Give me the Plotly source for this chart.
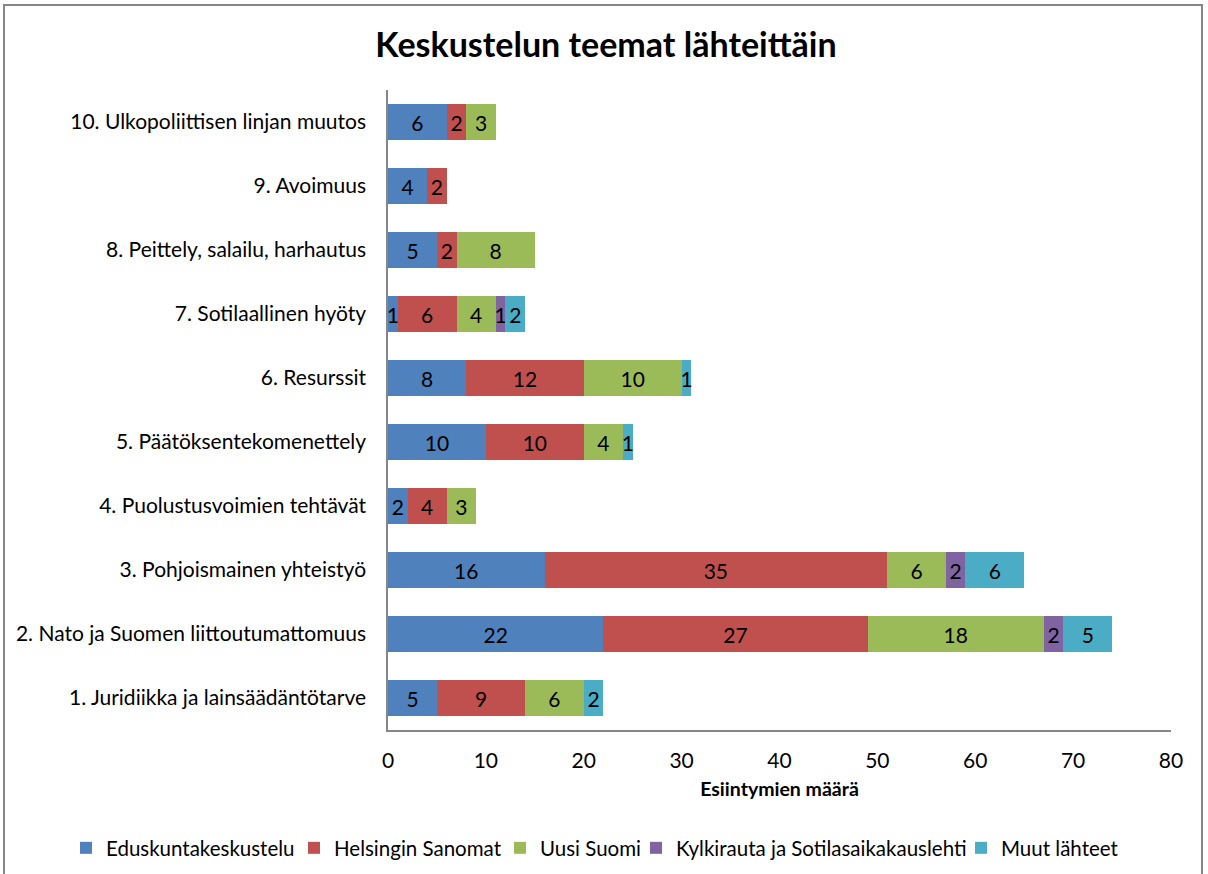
import plotly.graph_objects as go

categories = [
    "1. Juridiikka ja lainsäädäntötarve",
    "2. Nato ja Suomen liittoutumattomuus",
    "3. Pohjoismainen yhteistyö",
    "4. Puolustusvoimien tehtävät",
    "5. Päätöksentekomenettely",
    "6. Resurssit",
    "7. Sotilaallinen hyöty",
    "8. Peittely, salailu, harhautus",
    "9. Avoimuus",
    "10. Ulkopoliittisen linjan muutos",
]
eduskunta = [5, 22, 16, 2, 10, 8, 1, 5, 4, 6]
hesari = [9, 27, 35, 4, 10, 12, 6, 2, 2, 2]
uusi_suomi = [6, 18, 6, 3, 4, 10, 4, 8, None, 3]
kylkirauta = [None, 2, 2, None, None, None, 1, None, None, None]
muut = [2, 5, 6, None, 1, 1, 2, None, None, None]

series = [
    ("Eduskuntakeskustelu", eduskunta, "#4F81BD"),
    ("Helsingin Sanomat", hesari, "#C0504D"),
    ("Uusi Suomi", uusi_suomi, "#9BBB59"),
    ("Kylkirauta ja Sotilasaikakauslehti", kylkirauta, "#8064A2"),
    ("Muut lähteet", muut, "#4BACC6"),
]
# legend text start positions (px)
legend_text_x = [106, 334, 540, 676, 1001]

FONT = "Lato"
W, H = 1208, 874
L, R, T, B = 388, 1208 - 1171, 90, 874 - 730
pw, ph = W - L - R, H - T - B

def px(x):
    return (x - L) / pw

def py(y):
    return (H - B - y) / ph

fig = go.Figure()
legend_names = ["legend", "legend2", "legend3", "legend4", "legend5"]
for (name, vals, color), lg in zip(series, legend_names):
    fig.add_trace(go.Bar(
        name=name, y=categories, x=vals, orientation="h",
        marker=dict(color=color, line=dict(width=0)),
        text=vals, textposition="inside", insidetextanchor="middle",
        texttemplate="%{x}", legend=lg,
        textfont=dict(color="black", size=21, family=FONT),
    ))

legend_layouts = {}
for lg, tx in zip(legend_names, legend_text_x):
    legend_layouts[lg] = dict(
        orientation="h", xref="container", yref="container",
        x=(tx - 40) / W, xanchor="left", y=1 - 848 / H, yanchor="middle",
        font=dict(size=20.5, family=FONT, color="black"),
        bgcolor="rgba(0,0,0,0)", itemwidth=30,
    )

fig.update_layout(
    width=W, height=H,
    barmode="stack", bargap=0.44,
    paper_bgcolor="white", plot_bgcolor="white",
    margin=dict(l=L, r=R, t=T, b=B, pad=0, autoexpand=False),
    font=dict(family=FONT, color="black", size=20),
    uniformtext=dict(minsize=21, mode="show"),
    title=dict(text="<b>Keskustelun teemat lähteittäin</b>", x=606 / W, xanchor="center",
               xref="container", y=1 - 45 / H, yanchor="middle", yref="container",
               font=dict(size=34, family=FONT, color="black")),
    showlegend=True,
    xaxis=dict(range=[0, 80], dtick=10, showgrid=False, zeroline=False,
               showline=True, linecolor="#868686", linewidth=1.5,
               ticks="", tickfont=dict(size=21, family=FONT),
               ticklabelstandoff=11,
               title=dict(text="<b>Esiintymien määrä</b>", font=dict(size=19.5, family=FONT), standoff=11)),
    yaxis=dict(categoryorder="array", categoryarray=categories, showgrid=False,
               zeroline=False, showline=True, linecolor="#868686", linewidth=1.5,
               ticks="", tickfont=dict(size=21, family=FONT), ticklabelstandoff=16),
    **legend_layouts,
)

fig.add_shape(type="rect", xref="paper", yref="paper",
              x0=px(4), x1=px(1202), y0=py(880), y1=py(5),
              line=dict(color="#868686", width=2), fillcolor="rgba(0,0,0,0)", layer="below")

fig.write_html("out.html", config={"displayModeBar": False},
               post_script="document.body.style.margin='0';")
